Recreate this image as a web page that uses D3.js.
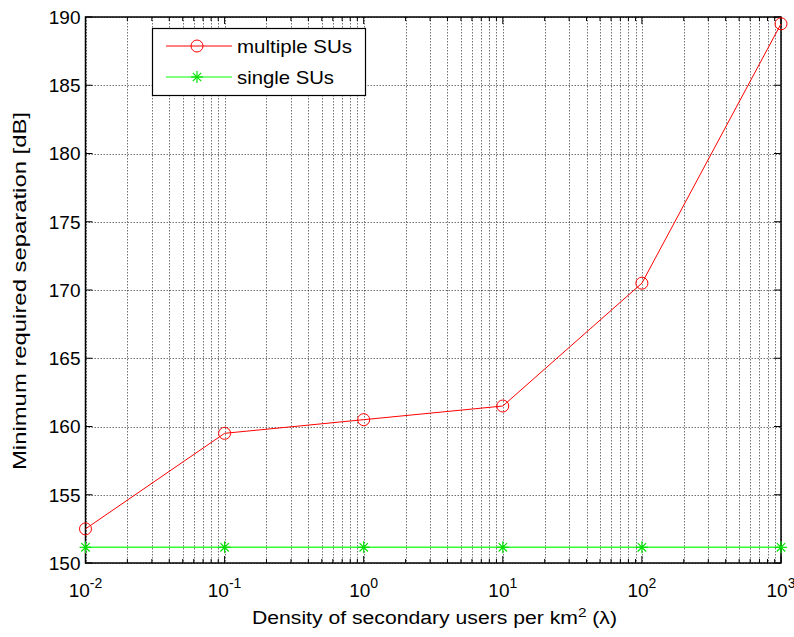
<!DOCTYPE html>
<html>
<head>
<meta charset="utf-8">
<script src="https://cdn.jsdelivr.net/npm/d3@7"></script>
<style>
    body { margin: 0; background: #fff; }
    text { font-family: "Liberation Sans", Arial, sans-serif; fill: #000; }
</style>
</head>
<body>
<svg id="chart" width="794" height="637"></svg>
<script>
// data
const densities = [0.01, 0.1, 1, 10, 100, 1000];
const multipleSUs = [152.5, 159.5, 160.5, 161.5, 170.5, 189.5];
const singleSUs = [151.15, 151.15, 151.15, 151.15, 151.15, 151.15];
const xTickExponents = [-2, -1, 0, 1, 2, 3];
const yTicks = [150, 155, 160, 165, 170, 175, 180, 185, 190];
const seriesNames = ["multiple SUs", "single SUs"];

const W = 794, H = 637;
const margin = {top: 17, right: 13, bottom: 74, left: 85.5};

let svg = d3.select("#chart");

let x = d3.scaleLog()
    .domain([1e-2, 1e3])
    .range([margin.left, W - margin.right]);
let y = d3.scaleLinear()
    .domain([150, 190])
    .range([H - margin.bottom, margin.top]);

const x0 = x.range()[0], x1 = x.range()[1];
const y0 = y.range()[0], y1 = y.range()[1];

// minor positions on log axis (2..9 of each decade)
let minorTicks = [];
xTickExponents.slice(0, -1).forEach(e => {
    for (let k = 2; k <= 9; k++) minorTicks.push(k * Math.pow(10, e));
});
let majorTicks = xTickExponents.map(e => Math.pow(10, e));

// ---- grid (dotted, like matlab)
let grid = svg.append("g")
    .attr("stroke", "#000")
    .attr("stroke-opacity", 0.55)
    .attr("stroke-width", 1)
    .attr("stroke-dasharray", "1.5,1.5");

grid.selectAll("line.vx")
    .data(majorTicks.concat(minorTicks))
    .join("line")
    .attr("x1", d => Math.round(x(d)) + 0.5)
    .attr("x2", d => Math.round(x(d)) + 0.5)
    .attr("y1", y1)
    .attr("y2", y0);

grid.selectAll("line.hy")
    .data(yTicks)
    .join("line")
    .attr("x1", x0)
    .attr("x2", x1)
    .attr("y1", d => Math.round(y(d)) + 0.5)
    .attr("y2", d => Math.round(y(d)) + 0.5);

// ---- ticks on all four sides, pointing inward
let ticks = svg.append("g").attr("stroke", "#000").attr("stroke-width", 1);
const majorLen = 7, minorLen = 4;

[[y0, -1], [y1, 1]].forEach(([yy, dir]) => {
    ticks.append("g").selectAll("line")
        .data(majorTicks.map(v => [v, majorLen]).concat(minorTicks.map(v => [v, minorLen])))
        .join("line")
        .attr("x1", d => x(d[0]))
        .attr("x2", d => x(d[0]))
        .attr("y1", yy)
        .attr("y2", d => yy + dir * d[1]);
});
[[x0, 1], [x1, -1]].forEach(([xx, dir]) => {
    ticks.append("g").selectAll("line")
        .data(yTicks)
        .join("line")
        .attr("x1", xx)
        .attr("x2", xx + dir * majorLen)
        .attr("y1", d => y(d))
        .attr("y2", d => y(d));
});

// ---- box
svg.append("rect")
    .attr("x", x0)
    .attr("y", y1)
    .attr("width", x1 - x0)
    .attr("height", y0 - y1)
    .attr("fill", "none")
    .attr("stroke", "#000")
    .attr("stroke-width", 1.5);

// ---- tick labels
svg.append("g").selectAll("text")
    .data(yTicks)
    .join("text")
    .attr("x", x0 - 5)
    .attr("y", d => y(d))
    .attr("dy", "0.36em")
    .attr("text-anchor", "end")
    .style("font-size", "19px")
    .text(d => d);

let xl = svg.append("g").selectAll("text")
    .data(xTickExponents)
    .join("text")
    .attr("x", d => x(Math.pow(10, d)))
    .attr("y", y0 + 34)
    .attr("text-anchor", "middle")
    .style("font-size", "19px");
xl.append("tspan").text("10");
xl.append("tspan")
    .attr("dy", -9)
    .style("font-size", "14px")
    .text(d => d);

// ---- axis titles (reference glyphs are wider than Liberation, stretch to its length)
let xt = svg.append("text")
    .attr("x", 252)
    .attr("y", 624)
    .attr("textLength", 365)
    .attr("lengthAdjust", "spacingAndGlyphs")
    .style("font-size", "18px");
xt.append("tspan").text("Density of secondary users per km");
xt.append("tspan").attr("dy", -7).style("font-size", "13px").text("2");
xt.append("tspan").attr("dy", 7).text(" (\u03bb)");

svg.append("text")
    .attr("transform", `translate(26,470) rotate(-90)`)
    .attr("textLength", 358)
    .attr("lengthAdjust", "spacingAndGlyphs")
    .style("font-size", "18px")
    .text("Minimum required separation [dB]");

// ---- series
let line = d3.line()
    .x(d => x(d[0]))
    .y(d => y(d[1]));

let multi = d3.zip(densities, multipleSUs);
let single = d3.zip(densities, singleSUs);

function star(g, cx, cy, r, color) {
    let s = g.append("g").attr("stroke", color).attr("stroke-width", 1.2);
    [[-r, 0, r, 0], [0, -r, 0, r], [-r * 0.7, -r * 0.7, r * 0.7, r * 0.7], [-r * 0.7, r * 0.7, r * 0.7, -r * 0.7]]
        .forEach(l => s.append("line")
            .attr("x1", cx + l[0]).attr("y1", cy + l[1])
            .attr("x2", cx + l[2]).attr("y2", cy + l[3]));
}

let plot = svg.append("g");

plot.append("path")
    .datum(single)
    .attr("d", line)
    .attr("fill", "none")
    .attr("stroke", "#33ff33")
    .attr("stroke-width", 1.6);
single.forEach(d => star(plot, x(d[0]), y(d[1]), 6, "#00e000"));

plot.append("path")
    .datum(multi)
    .attr("d", line)
    .attr("fill", "none")
    .attr("stroke", "#ff0000")
    .attr("stroke-width", 1);
plot.selectAll("circle")
    .data(multi)
    .join("circle")
    .attr("cx", d => x(d[0]))
    .attr("cy", d => y(d[1]))
    .attr("r", 6)
    .attr("fill", "none")
    .attr("stroke", "#ff0000")
    .attr("stroke-width", 1);

// ---- legend
let legend = svg.append("g");
legend.append("rect")
    .attr("x", 152.5)
    .attr("y", 28.5)
    .attr("width", 213)
    .attr("height", 67)
    .attr("fill", "#fff")
    .attr("stroke", "#000")
    .attr("stroke-width", 1.2);

const legendColors = ["#ff0000", "#00ff00"];
const legendY = [46, 77];
const legendTextLen = [115, 97];
seriesNames.forEach((name, i) => {
    legend.append("line")
        .attr("x1", 166).attr("x2", 232)
        .attr("y1", legendY[i]).attr("y2", legendY[i])
        .attr("stroke", legendColors[i])
        .attr("stroke-width", 1);
    if (i === 0) {
        legend.append("circle")
            .attr("cx", 197).attr("cy", legendY[i]).attr("r", 6)
            .attr("fill", "none").attr("stroke", legendColors[i]);
    } else {
        star(legend, 197, legendY[i], 6, "#00e000");
    }
    legend.append("text")
        .attr("x", 237)
        .attr("y", legendY[i])
        .attr("dy", "0.36em")
        .attr("textLength", legendTextLen[i])
        .attr("lengthAdjust", "spacingAndGlyphs")
        .style("font-size", "19px")
        .text(name);
});
</script>
</body>
</html>
